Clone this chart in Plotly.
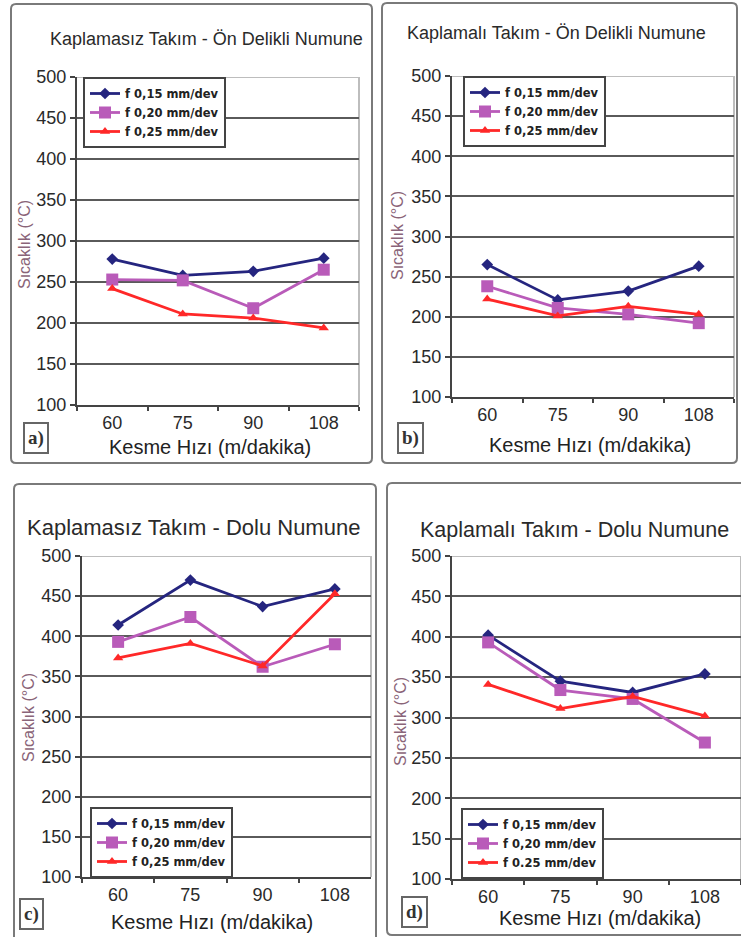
import plotly.graph_objects as go

# ---------------- data ----------------
categories = ["60", "75", "90", "108"]
y_ticks = [100, 150, 200, 250, 300, 350, 400, 450, 500]

legend_names_abc = ["f 0,15 mm/dev", "f 0,20 mm/dev", "f 0,25 mm/dev"]
legend_names_d = ["f 0,15 mm/dev", "f 0,20 mm/dev", "f 0.25 mm/dev"]

a_f015 = [278, 258, 263, 279]
a_f020 = [253, 252, 218, 265]
a_f025 = [242, 211, 206, 194]

b_f015 = [265, 221, 232, 263]
b_f020 = [238, 211, 203, 192]
b_f025 = [222, 201, 213, 203]

c_f015 = [414, 470, 437, 459]
c_f020 = [393, 424, 362, 390]
c_f025 = [373, 391, 363, 453]

d_f015 = [402, 345, 331, 354]
d_f020 = [393, 334, 323, 269]
d_f025 = [341, 311, 326, 302]

titles = [
    "Kaplamasız Takım - Ön Delikli Numune",
    "Kaplamalı Takım - Ön Delikli Numune",
    "Kaplamasız Takım - Dolu Numune",
    "Kaplamalı Takım - Dolu Numune",
]
panel_tags = ["a)", "b)", "c)", "d)"]
x_title = "Kesme Hızı (m/dakika)"
y_title = "Sıcaklık (°C)"

# ---------------- styling / layout ----------------
W, H = 741, 937
FONT = "Arial, 'Liberation Sans', sans-serif"
colors = ["#25257F", "#B95BB9", "#FF2828"]
symbols = ["diamond", "square", "triangle-up"]
msizes = [9, 12, 9]

# pixel geometry for each panel
panels = [
    dict(data=[a_f015, a_f020, a_f025], names=legend_names_abc,
         plot=(77, 359, 77, 405), border=(11, 372, 4, 463),
         title=(206, 39, 18, "center"), ytitle=(25, 245), xtitle=(210, 447),
         tag=(36, 438), legend=(83, 77, "top")),
    dict(data=[b_f015, b_f020, b_f025], names=legend_names_abc,
         plot=(452, 734, 76, 397), border=(382, 737, 3, 463),
         title=(556, 33, 18, "center"), ytitle=(397, 235), xtitle=(590, 445),
         tag=(410, 438), legend=(463, 76, "top")),
    dict(data=[c_f015, c_f020, c_f025], names=legend_names_abc,
         plot=(82, 371, 556, 877), border=(14, 376, 484, 945),
         title=(193, 527, 22, "center"), ytitle=(28, 718), xtitle=(212, 922),
         tag=(31, 914), legend=(90, 878, "bottom")),
    dict(data=[d_f015, d_f020, d_f025], names=legend_names_d,
         plot=(452, 741, 556, 879), border=(387, 750, 483, 935),
         title=(418, 530, 21.5, "left"), ytitle=(400, 722), xtitle=(600, 918),
         tag=(414, 912), legend=(461, 879, "bottom")),
]


def px(x):
    return x / W


def py(y):
    return 1 - y / H


def rounded_rect(x0, x1, y0, y1, r=5):
    X0, X1 = px(x0), px(x1)
    Y0, Y1 = py(y0), py(y1)
    rx, ry = r / W, r / H
    return (f"M {X0+rx},{Y0} L {X1-rx},{Y0} Q {X1},{Y0} {X1},{Y0-ry} "
            f"L {X1},{Y1+ry} Q {X1},{Y1} {X1-rx},{Y1} L {X0+rx},{Y1} "
            f"Q {X0},{Y1} {X0},{Y1+ry} L {X0},{Y0-ry} Q {X0},{Y0} {X0+rx},{Y0} Z")


fig = go.Figure()
layout = dict(
    width=W, height=H,
    margin=dict(l=0, r=0, t=0, b=0, autoexpand=False),
    paper_bgcolor="white", plot_bgcolor="white",
    font=dict(family=FONT, color="#222"),
    shapes=[], annotations=[],
)

for i, p in enumerate(panels):
    k = "" if i == 0 else str(i + 1)
    xa, ya = "x" + k, "y" + k
    leg = "legend" + k
    for j in range(3):
        fig.add_trace(go.Scatter(
            x=categories, y=p["data"][j], name=p["names"][j],
            mode="lines+markers", xaxis=xa, yaxis=ya, legend=leg,
            line=dict(color=colors[j], width=2.8),
            marker=dict(symbol=symbols[j], size=msizes[j], color=colors[j]),
        ))
    x0, x1, y0, y1 = p["plot"]
    layout["xaxis" + k] = dict(
        domain=[px(x0), px(x1)], anchor=ya, type="category", automargin=False,
        range=[-0.5, len(categories) - 0.5],
        showline=True, linecolor="#444", linewidth=2,
        ticks="outside", tickson="boundaries", ticklen=4, tickcolor="#444", tickwidth=1.5,
        tickfont=dict(size=18, color="#2a2a2a"), showgrid=False, zeroline=False,
        fixedrange=True,
    )
    layout["yaxis" + k] = dict(
        domain=[py(y1), py(y0)], anchor=xa, range=[100, 500], automargin=False,
        tickvals=y_ticks, showline=True, linecolor="#444", linewidth=2,
        ticks="outside", ticklen=5, tickcolor="#444", tickwidth=1.5,
        tickfont=dict(size=18, color="#2a2a2a"),
        showgrid=True, gridcolor="#5a5a5a", gridwidth=1.6, zeroline=False,
        fixedrange=True,
    )
    lx, ly, anch = p["legend"]
    layout[leg] = dict(
        x=px(lx), y=py(ly), xanchor="left", yanchor=anch,
        bgcolor="white", bordercolor="#444", borderwidth=2,
        font=dict(size=11.5, family="'DejaVu Sans', Arial, sans-serif", color="#222", weight="bold"),
        tracegroupgap=0, itemwidth=30,
    )
    # light plot-area top and right borders
    layout["shapes"].append(dict(type="line", xref=xa + " domain", yref=ya,
                                 x0=0, x1=1, y0=500, y1=500,
                                 line=dict(color="#BDBDBD", width=2), layer="above"))
    layout["shapes"].append(dict(type="line", xref=xa + " domain", yref=ya,
                                 x0=1, x1=1, y0=100, y1=500,
                                 line=dict(color="#BDBDBD", width=2), layer="below"))
    # panel frame
    bx0, bx1, by0, by1 = p["border"]
    layout["shapes"].append(dict(type="path", xref="paper", yref="paper",
                                 path=rounded_rect(bx0, bx1, by0, by1),
                                 line=dict(color="#7a7a7a", width=2), layer="below"))
    # title
    tx, ty, tsize, tanch = p["title"]
    layout["annotations"].append(dict(
        text=titles[i], x=px(tx), y=py(ty), xref="paper", yref="paper",
        xanchor=tanch, yanchor="middle", showarrow=False,
        font=dict(size=tsize, color="#2a2a2a", family=FONT)))
    # y title
    yx, yy = p["ytitle"]
    layout["annotations"].append(dict(
        text=y_title, x=px(yx), y=py(yy), xref="paper", yref="paper",
        xanchor="center", yanchor="middle", textangle=-90, showarrow=False,
        font=dict(size=16, color="#8A6478", family=FONT)))
    # x title
    xx, xy = p["xtitle"]
    layout["annotations"].append(dict(
        text=x_title, x=px(xx), y=py(xy), xref="paper", yref="paper",
        xanchor="center", yanchor="middle", showarrow=False,
        font=dict(size=20, color="#222", family=FONT)))
    # panel tag
    gx, gy = p["tag"]
    layout["annotations"].append(dict(
        text="<b>" + panel_tags[i] + "</b>", x=px(gx), y=py(gy), xref="paper", yref="paper",
        xanchor="center", yanchor="middle", showarrow=False,
        bordercolor="#666", borderwidth=2, borderpad=3, bgcolor="white",
        font=dict(size=19, color="#333", family="'Liberation Serif', 'DejaVu Serif', serif")))

fig.update_layout(**layout)
fig.write_html("out.html", config={"displayModeBar": False},
               post_script="document.body.style.margin='0';document.body.style.overflow='hidden';")
